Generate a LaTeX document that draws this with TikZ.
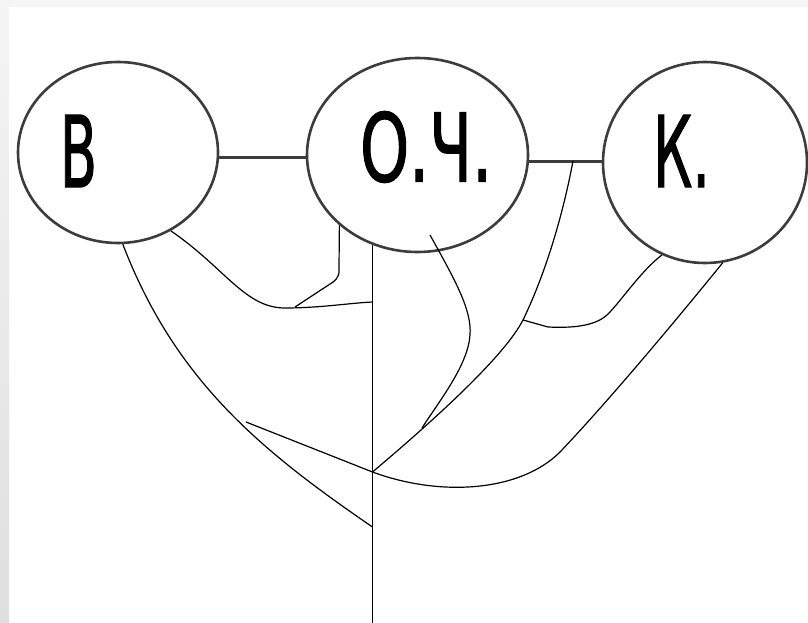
\documentclass[tikz,border=0pt]{standalone}
\usepackage{graphicx}
\usepackage{fontspec}
\setmainfont{DejaVu Sans}
\newfontfamily\lblfont{DejaVu Sans}[FakeBold=1.5]
\usetikzlibrary{shapes.geometric}
\definecolor{edge}{HTML}{3C3C3C}
\tikzset{
 ell/.style={ellipse, draw=edge, line width=2.6pt, fill=white, inner sep=0pt},
 conn/.style={draw=edge, line width=3pt},
 wire/.style={draw=black, line width=1.2pt},
 lbl/.style={inner sep=0pt, text=black, font=\lblfont}
}
\begin{document}
\begin{tikzpicture}[x=1pt,y=-1pt]
\useasboundingbox (0,0) rectangle (808,623);
\fill[white] (0,0) rectangle (808,623);
\shade[top color=gray!8, bottom color=gray!25] (0,0) rectangle (9,623);
\fill[gray!8] (9,0) rectangle (808,7);

% ellipses
\node[ell, minimum width=200pt, minimum height=181pt] (B) at (118,152.5) {};
\node[ell, minimum width=221pt, minimum height=194pt] (O) at (417.5,155) {};
\node[ell, minimum width=204pt, minimum height=201pt] (K) at (705,162.5) {};

% labels
\node[lbl] (tB) at (78.5,151) {\resizebox{37pt}{72pt}{В}};
\node[lbl] (tO) at (426,147) {\resizebox{132pt}{70pt}{О.Ч.}};
\node[lbl] (tK) at (681.5,151) {\resizebox{57pt}{72pt}{К.}};

% thick connectors
\draw[conn] (B.east |- 0,157) -- (O.west |- 0,157);
\draw[conn] (O.east |- 0,161) -- (K.west |- 0,161);

% named points
\coordinate (J) at (372.5,472);
\coordinate (V1) at (372.5,302);
\coordinate (V2) at (372.5,527);
\coordinate (Vend) at (372.5,623);
\coordinate (C1) at (573,161);
\coordinate (P1) at (285,308);
\coordinate (P2) at (295,307);
\coordinate (Q) at (523,320);
\coordinate (R) at (422,428);
\coordinate (S) at (246,422);
\coordinate (T) at (430,235);

% thin lines
\draw[wire] (O.243.4 -| J) -- (Vend);
\draw[wire] (B.273.2) .. controls (175,380) and (260,450) .. (V2);
\draw[wire] (B.304.2) .. controls (225,268) and (245,308) .. (P1) .. controls (320,308) and (350,303) .. (V1);
\draw[wire] (O.222.2) -- (339,268) .. controls (340,278) and (335,281) .. (327,286) -- (P2);
\draw[wire] (T) .. controls (455,280) and (472,310) .. (470,335) .. controls (468,365) and (440,400) .. (R);
\draw[wire] (C1) .. controls (560,230) and (540,285) .. (Q) .. controls (505,355) and (440,415) .. (J);
\draw[wire] (K.245.6) .. controls (640,272) and (622,300) .. (608,314) .. controls (595,327) and (570,328) .. (548,327) -- (Q);
\draw[wire] (K.280.2) .. controls (660,340) and (600,410) .. (560,452) .. controls (520,492) and (440,497) .. (J);
\draw[wire] (S) -- (J);
\end{tikzpicture}
\end{document}
